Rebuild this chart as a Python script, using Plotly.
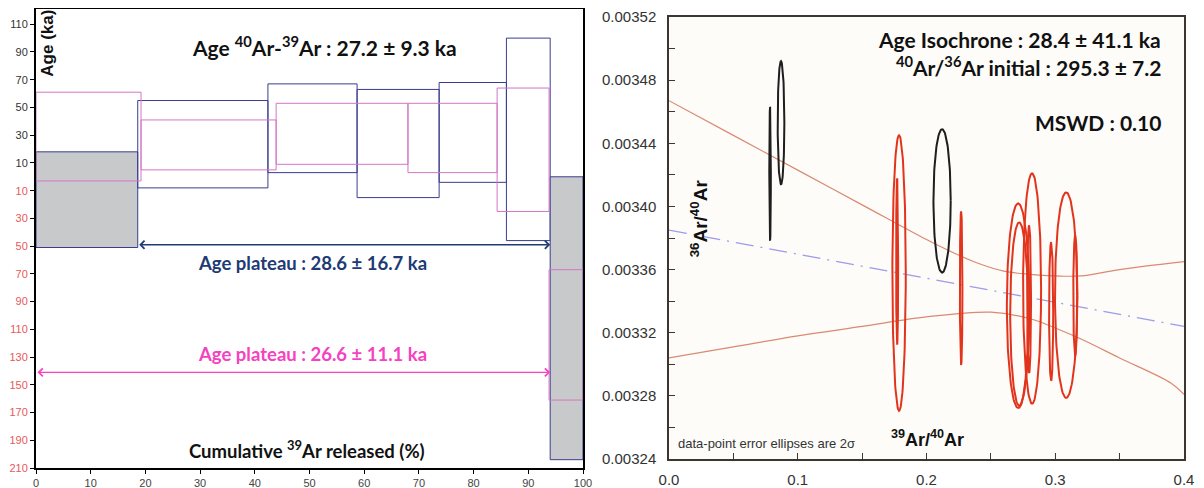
import numpy as np
import plotly.graph_objects as go

# ---------------- Left panel: 40Ar/39Ar age spectrum ----------------
blue_edges = [0, 18.6, 42.4, 58.7, 73.7, 86.0, 94.0, 100]
blue_low = [-51, -8, 3, -15, -4, -46, -204]
blue_high = [18, 55, 67, 63, 68, 100, 0]
blue_excluded = [True, False, False, False, False, False, True]

pink_edges = [0, 19.2, 43.9, 68.0, 84.3, 93.8, 100]
pink_low = [-3, 5, 9, 3, -25, -161]
pink_high = [61, 41, 53, 53, 64, -67]

plateau_blue_range = [18.6, 94.0]
plateau_pink_range = [0, 94.0]

left_x_ticks = [0, 10, 20, 30, 40, 50, 60, 70, 80, 90, 100]
left_y_ticks = [110, 90, 70, 50, 30, 10, -10, -30, -50, -70, -90, -110,
                -130, -150, -170, -190, -210]

# ---------------- Right panel: inverse isochron ----------------
iso_x = [0.0, 0.4]
iso_y = [0.003385, 0.003324]

env_up_x = [0, 0.05, 0.10, 0.15, 0.20, 0.22, 0.24, 0.26, 0.28, 0.30, 0.32, 0.35, 0.40]
env_up_y = [0.003467, 0.003445, 0.003423, 0.003401, 0.003379, 0.003371, 0.003364,
            0.003359, 0.003357, 0.003356, 0.003356, 0.003360, 0.003365]
env_lo_x = [0, 0.05, 0.10, 0.15, 0.20, 0.25, 0.28, 0.30, 0.32, 0.35, 0.39, 0.40]
env_lo_y = [0.003304, 0.003311, 0.003318, 0.003324, 0.003330, 0.003333, 0.003329,
            0.003323, 0.003316, 0.003304, 0.003288, 0.003281]

# excluded (black) ellipses: centre x, centre y, half-width, half-height
blk_cx = [0.0785, 0.0870, 0.2121]
blk_cy = [0.0034207, 0.0034530, 0.0034035]
blk_hw = [0.0006, 0.0026, 0.0067]
blk_hh = [0.0000423, 0.0000390, 0.0000454]

# plateau (red) ellipses
red_cx = [0.1787, 0.1772, 0.2269, 0.2820, 0.2712, 0.2720, 0.2797, 0.2968, 0.3085, 0.3155]
red_cy = [0.0033578, 0.0033651, 0.0033483, 0.0033480, 0.0033371, 0.0033318,
          0.0033413, 0.0033334, 0.0033438, 0.0033435]
red_hw = [0.0052, 0.0008, 0.0010, 0.0070, 0.0088, 0.0070, 0.0015, 0.0016, 0.0087, 0.0015]
red_hh = [0.0000873, 0.0000527, 0.0000486, 0.0000730, 0.0000648, 0.0000581,
          0.0000467, 0.0000438, 0.0000651, 0.0000381]

right_y_ticks = [0.00324, 0.00328, 0.00332, 0.00336, 0.00340, 0.00344, 0.00348, 0.00352]
right_x_ticks = [0.0, 0.1, 0.2, 0.3, 0.4]

# ---------------- styles ----------------
BLUE = "#3b3b8f"
PINK = "#d276c4"
GRAY = "#c8c9cb"
NAVY = "#203a74"
MAGENTA = "#f542bf"
RED = "#e2341d"
ENV = "#d98a70"
CAL = "Lato, 'Open Sans', sans-serif"
ARIAL = "Liberation Sans, Arial, sans-serif"

fig = go.Figure()


def box(x0, x1, y0, y1):
    return [x0, x1, x1, x0, x0], [y0, y0, y1, y1, y0]


# blue steps
for i in range(len(blue_low)):
    bx, by = box(blue_edges[i], blue_edges[i + 1], blue_low[i], blue_high[i])
    fig.add_trace(go.Scatter(
        x=bx, y=by, mode="lines", xaxis="x", yaxis="y",
        line=dict(color=BLUE, width=1),
        fill="toself" if blue_excluded[i] else None,
        fillcolor=GRAY, showlegend=False, hoverinfo="skip"))

# pink steps
for i in range(len(pink_low)):
    bx, by = box(pink_edges[i], pink_edges[i + 1], pink_low[i], pink_high[i])
    fig.add_trace(go.Scatter(
        x=bx, y=by, mode="lines", xaxis="x", yaxis="y",
        line=dict(color=PINK, width=1),
        showlegend=False, hoverinfo="skip"))

# right panel background
fig.add_shape(type="rect", xref="x2 domain", yref="y2 domain", x0=0, x1=1, y0=0, y1=1,
              fillcolor="#fdfcf9", line=dict(width=0), layer="below")

# envelopes
fig.add_trace(go.Scatter(x=env_up_x, y=env_up_y, mode="lines", xaxis="x2", yaxis="y2",
                         line=dict(color=ENV, width=1.2, shape="spline"),
                         showlegend=False, hoverinfo="skip"))
fig.add_trace(go.Scatter(x=env_lo_x, y=env_lo_y, mode="lines", xaxis="x2", yaxis="y2",
                         line=dict(color=ENV, width=1.2, shape="spline"),
                         showlegend=False, hoverinfo="skip"))
fig.add_trace(go.Scatter(x=iso_x, y=iso_y, mode="lines", xaxis="x2", yaxis="y2",
                         line=dict(color="#9c9ce8", width=1.3, dash="18px,7px,2px,7px"),
                         showlegend=False, hoverinfo="skip"))

t = np.linspace(0, 2 * np.pi, 121)
for cx, cy, hw, hh in zip(blk_cx, blk_cy, blk_hw, blk_hh):
    fig.add_trace(go.Scatter(x=cx + hw * np.cos(t), y=cy + hh * np.sin(t), mode="lines",
                             xaxis="x2", yaxis="y2", line=dict(color="#1e1e1e", width=2),
                             showlegend=False, hoverinfo="skip"))
for cx, cy, hw, hh in zip(red_cx, red_cy, red_hw, red_hh):
    fig.add_trace(go.Scatter(x=cx + hw * np.cos(t), y=cy + hh * np.sin(t), mode="lines",
                             xaxis="x2", yaxis="y2", line=dict(color=RED, width=2),
                             showlegend=False, hoverinfo="skip"))

annotations = []
# plateau arrows
for (xa, xb), yv, col in [(plateau_blue_range, -49, NAVY), (plateau_pink_range, -141, MAGENTA)]:
    annotations.append(dict(x=xb, y=yv, ax=xa, ay=yv, xref="x", yref="y", axref="x", ayref="y",
                            text="", showarrow=True, arrowhead=4, arrowside="end+start",
                            arrowwidth=1.3, arrowsize=1.2, arrowcolor=col))

annotations += [
    dict(x=52.8, y=94, xref="x", yref="y", showarrow=False,
         text="<b>Age <sup>40</sup>Ar-<sup>39</sup>Ar : 27.2 ± 9.3 ka</b>",
         font=dict(family=CAL, size=21, color="#111", weight=900)),
    dict(x=50.6, y=-62, xref="x", yref="y", showarrow=False,
         text="<b>Age plateau : 28.6 ± 16.7 ka</b>",
         font=dict(family=CAL, size=18.5, color=NAVY, weight=900)),
    dict(x=50.6, y=-127.5, xref="x", yref="y", showarrow=False,
         text="<b>Age plateau : 26.6 ± 11.1 ka</b>",
         font=dict(family=CAL, size=18.5, color=MAGENTA, weight=900)),
    dict(x=49.5, y=-197, xref="x", yref="y", showarrow=False,
         text="<b>Cumulative <sup>39</sup>Ar released (%)</b>",
         font=dict(family=CAL, size=18.5, color="#111", weight=900)),
    dict(x=2.2, y=96, xref="x", yref="y", showarrow=False, textangle=-90,
         text="<b>Age (ka)</b>", font=dict(family=ARIAL, size=17, color="#111")),
    # right panel texts
    dict(x=0.3838, y=0.003506, xref="x2", yref="y2", showarrow=False, xanchor="right",
         text="<b>Age Isochrone : 28.4 ± 41.1 ka</b>",
         font=dict(family=CAL, size=21, color="#111", weight=900)),
    dict(x=0.3838, y=0.003489, xref="x2", yref="y2", showarrow=False, xanchor="right",
         text="<b><sup>40</sup>Ar/<sup>36</sup>Ar initial : 295.3 ± 7.2</b>",
         font=dict(family=CAL, size=21, color="#111", weight=900)),
    dict(x=0.3838, y=0.003453, xref="x2", yref="y2", showarrow=False, xanchor="right",
         text="<b>MSWD : 0.10</b>",
         font=dict(family=CAL, size=21, color="#111", weight=900)),
    dict(x=0.024, y=0.0033924, xref="x2", yref="y2", showarrow=False, textangle=-90,
         text="<b><sup>36</sup>Ar/<sup>40</sup>Ar</b>",
         font=dict(family=ARIAL, size=19, color="#111")),
    dict(x=0.2005, y=0.003253, xref="x2", yref="y2", showarrow=False,
         text="<b><sup>39</sup>Ar/<sup>40</sup>Ar</b>",
         font=dict(family=ARIAL, size=18, color="#111")),
    dict(x=0.0054, y=0.00325, xref="x2", yref="y2", showarrow=False, xanchor="left",
         text="data-point error ellipses are 2σ",
         font=dict(family=ARIAL, size=13, color="#333")),
]

left_ticktext = [f'<span style="color:#333">{v}</span>' if v > 0
                 else f'<span style="color:#e8585a">{abs(v)}</span>'
                 for v in left_y_ticks]

# the page body adds an 8px offset; size the figure to fill the rest of the window
OFF = 8
W, H = 1204 - OFF, 488 - OFF


def fx(px):
    return (px - OFF) / W


def fy(py):
    return 1 - (py - OFF) / H


fig.update_layout(
    width=W, height=H,
    margin=dict(l=0, r=0, t=0, b=0, autoexpand=False),
    paper_bgcolor="white", plot_bgcolor="white",
    showlegend=False,
    annotations=annotations,
    xaxis=dict(domain=[fx(36), fx(583)], range=[0, 100], tickvals=left_x_ticks,
               automargin=False,
               showgrid=False, zeroline=False, showline=True, linecolor="#000",
               linewidth=2, mirror=True, ticks="outside", ticklen=4, tickcolor="#000",
               tickfont=dict(family=ARIAL, size=11, color="#444")),
    yaxis=dict(domain=[fy(468), fy(9)], range=[-210, 121], tickvals=left_y_ticks,
               automargin=False,
               ticktext=left_ticktext, showgrid=False, zeroline=False, showline=True,
               linecolor="#000", linewidth=2, mirror=True, ticks="outside", ticklen=4,
               tickcolor="#000", tickfont=dict(family=ARIAL, size=11, color="#444")),
    xaxis2=dict(domain=[fx(669), fx(1184)], range=[0, 0.4], tickvals=right_x_ticks,
                ticktext=["0.0", "0.1", "0.2", "0.3", "0.4"], anchor="y2",
                automargin=False,
                showgrid=False, zeroline=False, showline=True, linecolor="#3e3430",
                linewidth=1.5, mirror=True, ticks="inside", ticklen=6, tickcolor="#3e3430",
                minor=dict(dtick=0.05, tick0=0, ticks="inside", ticklen=6, tickcolor="#3e3430"),
                ticklabelstandoff=6,
                tickfont=dict(family=ARIAL, size=15, color="#333")),
    yaxis2=dict(domain=[fy(459), fy(17)], range=[0.00324, 0.00352],
                tickvals=right_y_ticks, tickformat=".5f", anchor="x2",
                automargin=False,
                showgrid=False, zeroline=False, showline=True, linecolor="#3e3430",
                linewidth=1.5, mirror=True, ticks="inside", ticklen=6, tickcolor="#3e3430",
                minor=dict(dtick=0.00002, tick0=0.00324, ticks="inside", ticklen=6,
                           tickcolor="#3e3430"),
                ticklabelstandoff=8,
                tickfont=dict(family=ARIAL, size=15, color="#333")),
)

fig.write_html("out.html")
